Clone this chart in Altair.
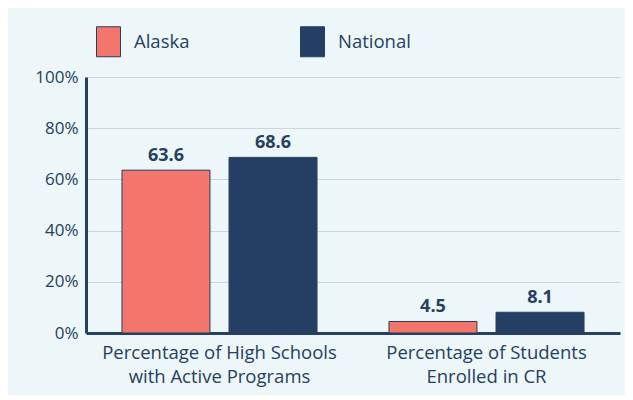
import altair as alt
import pandas as pd

categories = ["Percentage of High Schools|with Active Programs", "Percentage of Students|Enrolled in CR"]
series = ["Alaska", "National"]
alaska = [63.6, 4.5]
national = [68.6, 8.1]
colors = ["#F4756B", "#243F63"]
y_ticks = [0, 20, 40, 60, 80, 100]

rows = []
for i, c in enumerate(categories):
    rows.append({"cat": c, "series": "Alaska", "value": alaska[i]})
    rows.append({"cat": c, "series": "National", "value": national[i]})
df = pd.DataFrame(rows)

NAVY = "#263F63"
FONT = "Open Sans"

x = alt.X("cat:N", sort=categories, title=None,
          scale=alt.Scale(paddingInner=0, paddingOuter=0),
          axis=alt.Axis(labelAngle=0, labelExpr="split(datum.label, '|')",
                        labelFontSize=18.5, labelColor=NAVY, labelFont=FONT,
                        labelLimit=400,
                        labelLineHeight=24, labelPadding=10, ticks=False,
                        domainColor=NAVY, domainWidth=3, grid=False))
xo = alt.XOffset("series:N", sort=series,
                 scale=alt.Scale(paddingInner=0.178, paddingOuter=0.336))
y = alt.Y("value:Q", title=None,
          scale=alt.Scale(domain=[0, 100]),
          axis=alt.Axis(values=y_ticks, labelExpr="datum.value + '%'",
                        labelFontSize=17, labelColor=NAVY, labelFont=FONT,
                        labelPadding=8, ticks=False, domainColor=NAVY,
                        domainWidth=3, gridColor="#C9D7DD", gridWidth=1))

color = alt.Color("series:N", sort=series,
                  scale=alt.Scale(domain=series, range=colors),
                  legend=alt.Legend(title=None, orient="none", direction="horizontal",
                                    legendX=7, legendY=-51,
                                    symbolType="M-0.8,-1H0.8V1H-0.8Z",
                                    symbolSize=900, symbolStrokeColor=NAVY,
                                    symbolStrokeWidth=1, symbolOpacity=1,
                                    labelFontSize=18.5, labelColor=NAVY, labelFont=FONT,
                                    labelOffset=10, columnPadding=107))

bars = alt.Chart(df).mark_bar(stroke=NAVY, strokeWidth=1).encode(
    x=x, xOffset=xo, y=y, color=color)

labels = alt.Chart(df).mark_text(baseline="bottom", dy=-5, fontSize=18,
                                 fontWeight="bold", color=NAVY, font=FONT).encode(
    x=alt.X("cat:N", sort=categories), xOffset=xo, y="value:Q",
    text=alt.Text("value:Q", format=".1f"))

chart = (bars + labels).properties(
    width=534, height=256,
    background="#EDF6F8",
    padding={"left": 78, "top": 69, "right": 5, "bottom": 62},
    autosize=alt.AutoSizeParams(type="none"),
).configure_view(stroke=None).configure_legend(symbolSize=900)

chart.save("out.html", embed_options={"renderer": "svg", "actions": False})
